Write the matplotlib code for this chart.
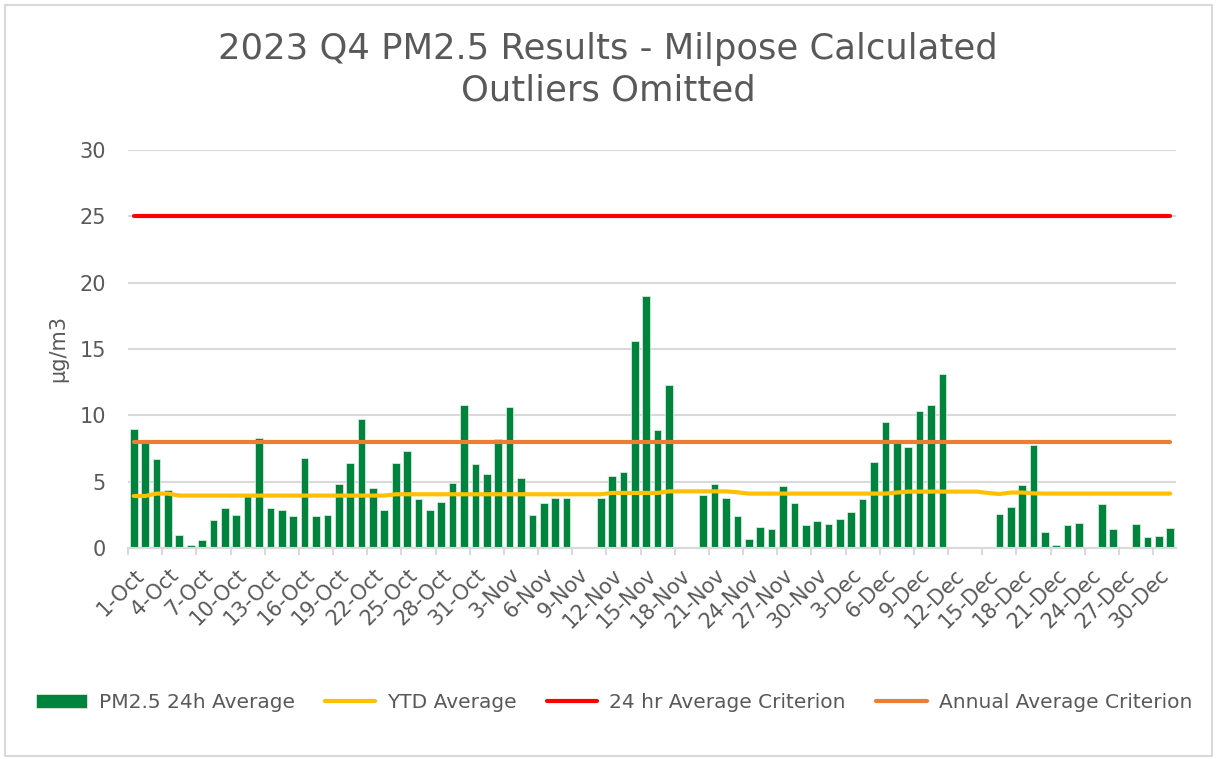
import numpy as np
import pandas as pd
import matplotlib
matplotlib.use('Agg')
import matplotlib.pyplot as plt
from matplotlib.patches import Rectangle

# Valores diários de PM2.5 (NaN = dia sem dado)
nan = np.nan
pm25_oct = [9.0, 7.9, 6.7, 4.4, 1.0, 0.2, 0.6, 2.1, 3.0, 2.5, 3.9, 8.3, 3.0, 2.9, 2.4, 6.8,
            2.4, 2.5, 4.8, 6.4, 9.7, 4.5, 2.9, 6.4, 7.3, 3.7, 2.9, 3.5, 4.9, 10.8, 6.3]
pm25_nov = [5.6, 8.2, 10.6, 5.3, 2.5, 3.4, 3.8, 3.8, nan, nan, 3.8, 5.4, 5.7, 15.6, 19.0,
            8.9, 12.3, nan, nan, 4.0, 4.8, 3.8, 2.4, 0.7, 1.6, 1.4, 4.7, 3.4, 1.7, 2.0]
pm25_dec = [1.8, 2.2, 2.7, 3.7, 6.5, 9.5, 7.9, 7.65, 10.3, 10.75, 13.1, nan, nan, nan, nan,
            2.6, 3.1, 4.75, 7.8, 1.2, 0.2, 1.7, 1.9, nan, 3.3, 1.4, nan, 1.8, 0.8, 0.9, 1.5]

ytd_oct = [3.92, 3.92, 4.1, 4.1, 3.95, 3.95, 3.95, 3.95, 3.95, 3.95, 3.95, 3.95, 3.95, 3.95,
           3.95, 3.95, 3.95, 3.95, 3.95, 3.95, 3.95, 3.95, 3.95, 4.05, 4.05, 4.05, 4.05, 4.05,
           4.05, 4.05, 4.05]
ytd_nov = [4.05, 4.05, 4.05, 4.05, 4.05, 4.05, 4.05, 4.05, 4.05, 4.05, 4.05, 4.15, 4.15,
           4.15, 4.15, 4.15, 4.27, 4.27, 4.27, 4.27, 4.27, 4.27, 4.2, 4.1, 4.1, 4.1, 4.1,
           4.1, 4.1, 4.1]
ytd_dec = [4.1, 4.1, 4.1, 4.1, 4.1, 4.1, 4.18, 4.25, 4.25, 4.25, 4.25, 4.25, 4.25, 4.25,
           4.15, 4.07, 4.18, 4.18, 4.12, 4.1, 4.1, 4.1, 4.1, 4.1, 4.1, 4.1, 4.1, 4.1, 4.1,
           4.1, 4.1]

criterion_24h = 25
criterion_annual = 8

dates = pd.date_range('2023-10-01', '2023-12-31', freq='D')
labels = [f"{d.day}-{d.strftime('%b')}" for d in dates]

pm25 = np.array(pm25_oct + pm25_nov + pm25_dec, dtype=float)
ytd = np.array(ytd_oct + ytd_nov + ytd_dec)
n = len(dates)
x = np.arange(n)

grey_txt = '#595959'
grey_line = '#D9D9D9'

fig = plt.figure(figsize=(12.16, 7.59), dpi=100)
ax = fig.add_axes([0.1053, 0.278, 0.8617, 0.5244])

bars = ax.bar(x, pm25, width=0.67, color='#00843D', edgecolor='#E6F2EA', linewidth=0.5,
              label='PM2.5 24h Average', zorder=2)
l_ytd, = ax.plot(x, ytd, color='#FFC000', lw=3, solid_capstyle='round',
                 label='YTD Average', zorder=3)
l_24, = ax.plot(x, [criterion_24h] * n, color='#FF0000', lw=3, solid_capstyle='round',
                label='24 hr Average Criterion', zorder=3)
l_ann, = ax.plot(x, [criterion_annual] * n, color='#ED7D31', lw=3, solid_capstyle='round',
                 label='Annual Average Criterion', zorder=3)

ax.set_xlim(-0.5, n - 0.5)
ax.set_ylim(0, 30)
ax.set_yticks(range(0, 31, 5))
ax.grid(axis='y', color=grey_line, lw=1.5, zorder=0)
ax.set_axisbelow(True)

# rótulos a cada 3 dias, marcas nas divisões entre categorias
ax.set_xticks(x[::3])
ax.set_xticklabels(labels[::3], rotation=45, ha='right', rotation_mode='anchor')
ax.set_xticks(np.arange(-0.5, n, 3), minor=True)
ax.tick_params(axis='x', which='major', length=0, pad=12, labelsize=15, labelcolor=grey_txt)
ax.tick_params(axis='x', which='minor', length=5, width=1.5, color=grey_line)
ax.tick_params(axis='y', length=0, pad=16, labelsize=15, labelcolor=grey_txt)

for s in ['top', 'right', 'left']:
    ax.spines[s].set_visible(False)
ax.spines['bottom'].set_color(grey_line)
ax.spines['bottom'].set_linewidth(1.5)

ax.set_ylabel('µg/m3', fontsize=15, color=grey_txt, labelpad=8)

fig.text(0.5, 0.958, '2023 Q4 PM2.5 Results - Milpose Calculated\nOutliers Omitted',
         ha='center', va='top', fontsize=25.5, color=grey_txt, linespacing=1.3)

fig.legend(handles=[bars, l_ytd, l_24, l_ann], loc='center', bbox_to_anchor=(0.505, 0.074),
           ncol=4, frameon=False, fontsize=14.5, labelcolor=grey_txt, handlelength=2.5,
           columnspacing=1.5, handletextpad=0.6)

fig.patches.append(Rectangle((0.004, 0.004), 0.993, 0.989, transform=fig.transFigure,
                             fill=False, edgecolor=grey_line, lw=1.5))

fig.savefig('out.png', dpi=100)
